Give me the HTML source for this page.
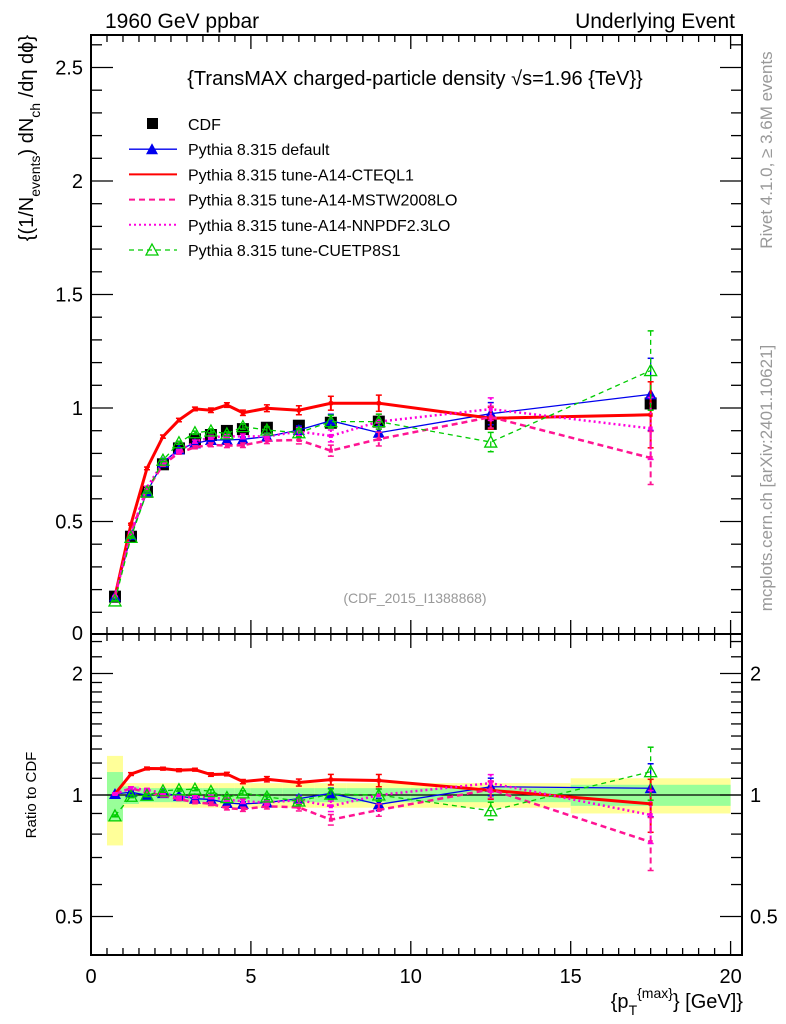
<!DOCTYPE html>
<html><head><meta charset="utf-8"><style>
html,body{margin:0;padding:0;background:#fff;}
svg{display:block;font-family:"Liberation Sans",sans-serif;}
</style></head><body>
<svg id="c" width="786" height="1024" xmlns="http://www.w3.org/2000/svg"></svg>
<script>
// ---- data ----
const xBins = [0.75,1.25,1.75,2.25,2.75,3.25,3.75,4.25,4.75,5.5,6.5,7.5,9,12.5,17.5];
const binLo = [0.5,1,1.5,2,2.5,3,3.5,4,4.5,5,6,7,8,10,15];
const binHi = [1,1.5,2,2.5,3,3.5,4,4.5,5,6,7,8,10,15,20];
const cdfVals = [0.169,0.433,0.631,0.752,0.822,0.862,0.881,0.899,0.907,0.913,0.922,0.935,0.94,0.93,1.02];
const cdfStat = [0.14,0.05,0.04,0.04,0.04,0.04,0.04,0.04,0.04,0.04,0.04,0.04,0.04,0.04,0.06];
const cdfTot = [0.25,0.07,0.07,0.07,0.07,0.07,0.07,0.07,0.07,0.07,0.07,0.07,0.07,0.07,0.1];
const defVals = [0.17,0.44,0.63,0.76,0.818,0.844,0.859,0.859,0.862,0.874,0.903,0.944,0.891,0.975,1.06];
const cteqVals = [0.17,0.488,0.734,0.874,0.947,0.996,0.99,1.013,0.979,0.999,0.99,1.021,1.021,0.955,0.97];
const mstwVals = [0.17,0.45,0.64,0.75,0.803,0.827,0.838,0.834,0.836,0.856,0.859,0.812,0.863,0.96,0.78];
const nnpdfVals = [0.17,0.45,0.65,0.76,0.81,0.852,0.871,0.875,0.875,0.875,0.896,0.877,0.94,0.995,0.91];
const cuetVals = [0.15,0.43,0.63,0.77,0.847,0.891,0.899,0.886,0.918,0.903,0.891,0.94,0.94,0.85,1.165];
const mcErr = [0.005,0.008,0.008,0.008,0.008,0.008,0.01,0.01,0.012,0.015,0.02,0.03,0.035,0.05,0.15];
const mainTicks = [0.5,1,1.5,2,2.5];
const ratioTicks = [0.5,1,2];
const xTicks = [0,5,10,15,20];

const NS="http://www.w3.org/2000/svg";
const svg=document.getElementById('c');
function el(tag,attrs,parent){const e=document.createElementNS(NS,tag);for(const k in attrs)e.setAttribute(k,attrs[k]);(parent||svg).appendChild(e);return e;}
const L=91,R=742,T=35,MB=634,RB=955;
const sx=v=>L+v*31.98;
const sy=v=>635-v*227;
const ry=v=>795-121.5*Math.log2(v);

// bands
const gBand=el('g',{});


for(let i=0;i<xBins.length;i++){
  const b1=el('rect',{x:sx(binLo[i]),y:ry(1+cdfTot[i]),width:sx(binHi[i])-sx(binLo[i]),height:ry(1-cdfTot[i])-ry(1+cdfTot[i]),fill:'#ffff99'},gBand);
  
  
  const b2=el('rect',{x:sx(binLo[i]),y:ry(1+cdfStat[i]),width:sx(binHi[i])-sx(binLo[i]),height:ry(1-cdfStat[i])-ry(1+cdfStat[i]),fill:'#99ff99'},gBand);
  
  
}
el('line',{x1:L,x2:R,y1:ry(1),y2:ry(1),stroke:'#000','stroke-width':1.2});

// frames
for(const [t,b] of [[T,MB],[MB,RB]]){
  const f=el('rect',{x:L,y:t,width:R-L,height:b-t,fill:'none',stroke:'#000','stroke-width':2});
  
  
}
// x ticks
for(let v=0;v<=20.3;v+=0.5){
  const maj=Math.abs(v%5)<1e-6, len=maj?14:7;
  for(const [t,b] of [[T,MB],[MB,RB]]){
    el('line',{x1:sx(v),x2:sx(v),y1:b,y2:b-len,stroke:'#000','stroke-width':1.3});
    el('line',{x1:sx(v),x2:sx(v),y1:t,y2:t+len,stroke:'#000','stroke-width':1.3});
  }
}
xTicks.forEach(v=>{const t=el('text',{x:sx(v),y:983,'font-size':20,'text-anchor':'middle'});t.textContent=v;
});
// main y ticks
for(let v=0.1;v<2.65;v+=0.1){
  const maj=Math.abs(v*2-Math.round(v*2))<1e-6, len=maj?22:11;
  el('line',{x1:L,x2:L+len,y1:sy(v),y2:sy(v),stroke:'#000','stroke-width':1.3});
  el('line',{x1:R,x2:R-len,y1:sy(v),y2:sy(v),stroke:'#000','stroke-width':1.3});
}
mainTicks.forEach(v=>{const t=el('text',{x:83,y:sy(v)+7,'font-size':20,'text-anchor':'end'});t.textContent=v;
});
{const t=el('text',{x:83,y:640,'font-size':20,'text-anchor':'end'});t.textContent='0';}
// ratio y ticks
[0.5,0.6,0.7,0.8,0.9,1,1.1,1.2,1.3,1.4,1.5,1.6,1.7,1.8,1.9,2,2.2,2.4].forEach(v=>{
  const len=ratioTicks.includes(v)?22:11;
  el('line',{x1:L,x2:L+len,y1:ry(v),y2:ry(v),stroke:'#000','stroke-width':1.3});
  el('line',{x1:R,x2:R-len,y1:ry(v),y2:ry(v),stroke:'#000','stroke-width':1.3});
});
ratioTicks.forEach(v=>{
  let t=el('text',{x:83,y:ry(v)+7,'font-size':20,'text-anchor':'end'});t.textContent=v;
  
  t=el('text',{x:750,y:ry(v)+7,'font-size':20});t.textContent=v;
  
});

// series
const series=[
 {name:'pythia-default',vals:defVals,color:'#0000ee',w:1.3,dash:'',mk:'tri'},
 {name:'pythia-a14-cteql1',vals:cteqVals,color:'#ff0000',w:3,dash:'',mk:'sq'},
 {name:'pythia-a14-mstw2008lo',vals:mstwVals,color:'#ff1493',w:2.5,dash:'6,4',mk:'sq'},
 {name:'pythia-a14-nnpdf23lo',vals:nnpdfVals,color:'#ff00dd',w:2.5,dash:'2,3',mk:'sq'},
 {name:'pythia-cuetp8s1',vals:cuetVals,color:'#00cc00',w:1.3,dash:'5,4',mk:'otri'}
];
function marker(g,type,x,y,c){
  if(type==='tri'){const m=el('path',{d:`M${x},${y-6}L${x+6},${y+5}L${x-6},${y+5}Z`,fill:c},g);return m;}
  if(type==='otri'){const m=el('path',{d:`M${x},${y-6}L${x+6},${y+5}L${x-6},${y+5}Z`,fill:'none',stroke:c,'stroke-width':1.3},g);return m;}
  if(type==='sq'){const m=el('rect',{x:x-2,y:y-2,width:4,height:4,fill:c},g);return m;}
}
function drawSeries(s,ratio){
  const g=el('g',{});
  
  
  const Y=(v,i)=>ratio?ry(v/cdfVals[i]):sy(v);
  const pts=s.vals.map((v,i)=>[sx(xBins[i]),Y(v,i)]);
  el('polyline',{points:pts.map(p=>p.join(',')).join(' '),fill:'none',stroke:s.color,'stroke-width':s.w,'stroke-dasharray':s.dash},g);
  s.vals.forEach((v,i)=>{
    const e=v*mcErr[i];
    const y1=Y(v+e,i),y2=Y(v-e,i),x=sx(xBins[i]);
    el('line',{x1:x,x2:x,y1:y1,y2:y2,stroke:s.color,'stroke-width':s.w>2?2:1.3,'stroke-dasharray':s.dash},g);
    el('line',{x1:x-3,x2:x+3,y1:y1,y2:y1,stroke:s.color,'stroke-width':1.5},g);
    el('line',{x1:x-3,x2:x+3,y1:y2,y2:y2,stroke:s.color,'stroke-width':1.5},g);
    const m=marker(g,s.mk,pts[i][0],pts[i][1],s.color);
    
    
  });
}
// CDF markers
const gc=el('g',{});


cdfVals.forEach((v,i)=>{
  const m=el('rect',{x:sx(xBins[i])-6,y:sy(v)-6,width:12,height:12,fill:'#000'},gc);
  
  
});
series.forEach(s=>{drawSeries(s,false);drawSeries(s,true);});

// text
function txt(x,y,s,attrs,name){const t=el('text',Object.assign({x:x,y:y},attrs||{}));t.innerHTML=s;
return t;}
txt(105,28,'1960 GeV ppbar',{'font-size':21},'beam-label');
txt(735,28,'Underlying Event',{'font-size':21,'text-anchor':'end'},'process-label');
txt(415,85,'{TransMAX charged-particle density √s=1.96 {TeV}}',{'font-size':20,'text-anchor':'middle'},'plot-title');
txt(415,603,'(CDF_2015_I1388868)',{'font-size':14,'text-anchor':'middle',fill:'#999'},'analysis-id');
txt(0,0,'{p<tspan dy="7" font-size="14">T</tspan><tspan dy="-17" font-size="14">{max}</tspan><tspan dy="10">} [GeV]}</tspan>',{'font-size':20,'text-anchor':'end',transform:'translate(743,1008)'},'x-axis-title');
txt(0,0,'{(1/N<tspan dy="7" font-size="14">events</tspan><tspan dy="-7">) dN</tspan><tspan dy="7" font-size="14">ch</tspan><tspan dy="-7"> /dη  dϕ}</tspan>',{'font-size':20,'text-anchor':'end',transform:'translate(33,35) rotate(-90)'},'y-axis-title');
txt(0,0,'Ratio to CDF',{'font-size':15,'text-anchor':'middle',transform:'translate(36,795) rotate(-90)'},'ratio-axis-title');
txt(0,0,'Rivet 4.1.0, ≥ 3.6M events',{'font-size':17,'text-anchor':'middle',fill:'#999',transform:'translate(772,150) rotate(-90)'},'rivet-label');
txt(0,0,'mcplots.cern.ch [arXiv:2401.10621]',{'font-size':17,'text-anchor':'middle',fill:'#999',transform:'translate(772,478) rotate(-90)'},'mcplots-label');

// legend
const lg=el('g',{});


const legNames=['CDF','Pythia 8.315 default','Pythia 8.315 tune-A14-CTEQL1','Pythia 8.315 tune-A14-MSTW2008LO','Pythia 8.315 tune-A14-NNPDF2.3LO','Pythia 8.315 tune-CUETP8S1'];
legNames.forEach((n,i)=>{
  const y=124+i*25.2;
  const e=el('g',{},lg);
  
  
  if(i===0){el('rect',{x:147,y:y-6,width:11,height:11,fill:'#000'},e);}
  else{const s=series[i-1];
    el('line',{x1:129,x2:177,y1:y,y2:y,stroke:s.color,'stroke-width':s.w>2?2:1.3,'stroke-dasharray':s.dash},e);
    if(s.mk!=='sq')marker(e,s.mk,152,y,s.color);}
  const t=el('text',{x:188,y:y+6,'font-size':16},e);t.textContent=n;
});
</script>
</body></html>
